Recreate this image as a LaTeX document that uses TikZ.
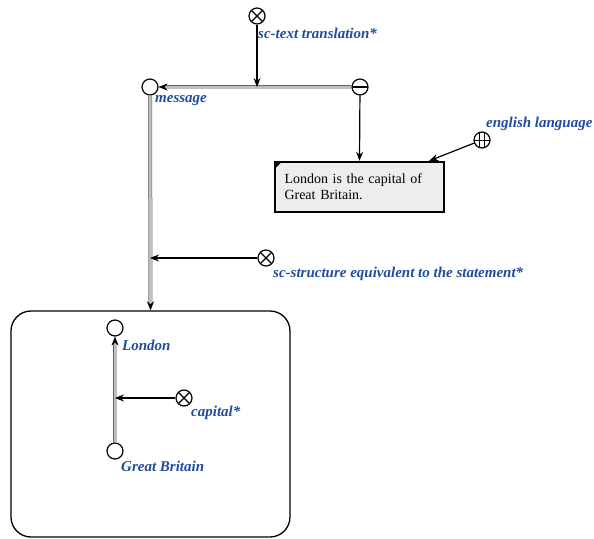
\documentclass[tikz,border=0pt]{standalone}
\usepackage{fontspec}
\setmainfont{Liberation Serif}
\definecolor{labelcolor}{rgb}{0.13, 0.30, 0.62}
\usetikzlibrary{arrows.meta,positioning}
\tikzset{
	scnode/.style={
		circle,
		draw=black,
		line width=1.2pt,
		fill=white,
		minimum size=16pt,
		inner sep=0pt
	},
	relnode/.style={
		scnode,
		path picture={
			\draw[line width=1.2pt] (path picture bounding box.north west) -- (path picture bounding box.south east);
			\draw[line width=1.2pt] (path picture bounding box.north east) -- (path picture bounding box.south west);
		}
	},
	pairnode/.style={
		scnode,
		path picture={
			\draw[line width=1.2pt] (path picture bounding box.west) -- (path picture bounding box.east);
		}
	},
	langnode/.style={
		scnode,
		path picture={
			\draw[line width=1pt] (path picture bounding box.west) -- (path picture bounding box.east);
			\draw[line width=1pt] ([xshift=-2.6pt]path picture bounding box.north) -- ([xshift=-2.6pt]path picture bounding box.south);
			\draw[line width=1pt] ([xshift=2.6pt]path picture bounding box.north) -- ([xshift=2.6pt]path picture bounding box.south);
		}
	},
	sclabel/.style={
		anchor=west,
		inner sep=0pt,
		text=labelcolor,
		font=\fontsize{15}{17}\selectfont\bfseries\itshape
	},
	textbox/.style={
		rectangle,
		draw=black,
		line width=2.4pt,
		fill=black!7,
		text width=150pt,
		inner xsep=9.5pt,
		minimum height=50pt,
		align=left,
		font=\fontsize{14}{16}\selectfont
	},
	structbox/.style={
		rectangle,
		rounded corners=20pt,
		draw=black,
		line width=1.3pt,
		minimum width=279pt,
		minimum height=226pt
	},
	pairline/.style={
		draw=black!60,
		line width=0.5pt,
		double=black!25,
		double distance=3pt,
		-{Stealth[length=9pt,width=7pt,inset=3pt,black]}
	},
	arrow/.style={
		draw=black,
		line width=1.2pt,
		-{Stealth[length=9pt,width=7pt,inset=3pt]}
	}
}

\begin{document}
\begin{tikzpicture}[x=1pt,y=-1pt]
	\useasboundingbox (0,0) rectangle (594,538);
	\node[relnode] (trrel) at (257,16) {};
	\node[scnode] (msg) at (150,87) {};
	\node[pairnode] (pair) at (360,87) {};
	\node[textbox] (sent) at (359.5,187) {London is the capital of Great Britain.};
	\node[langnode] (eng) at (482,140) {};
	\node[relnode] (eqrel) at (266,258) {};
	\node[structbox] (struct) at (150.5,424) {};
	\node[scnode] (lon) at (115,328) {};
	\node[scnode] (gb) at (115,451) {};
	\node[relnode] (caprel) at (184,398) {};

	\node[sclabel] (trlabel) at (258,33) {sc-text translation*};
	\node[sclabel] (msglabel) at (155,101) {message};
	\node[sclabel] (englabel) at (486,124) {english language};
	\node[sclabel] (eqlabel) at (273,274) {sc-structure equivalent to the statement*};
	\node[sclabel] (lonlabel) at (122,345) {London};
	\node[sclabel] (caplabel) at (191,413) {capital*};
	\node[sclabel] (gblabel) at (121,466) {Great Britain};

	\coordinate (trend) at (trrel |- msg);
	\coordinate (eqend) at (msg |- eqrel);
	\coordinate (capend) at (lon |- caprel);

	\draw[pairline] (pair) -- (msg);
	\draw[pairline] (msg) -- (struct.north);
	\draw[pairline] (gb) -- (lon);
	\draw[arrow] (trrel) -- (trend);
	\draw[arrow] (pair) -- (sent.north);
	\draw[arrow] (eng) -- ([xshift=-16pt]sent.north east);
	\draw[arrow] (eqrel) -- (eqend);
	\draw[arrow] (caprel) -- (capend);
	\fill ([shift={(1.5,1.5)}]sent.north west) -- ++(6,0) -- ++(-6,6) -- cycle;
\end{tikzpicture}
\end{document}
